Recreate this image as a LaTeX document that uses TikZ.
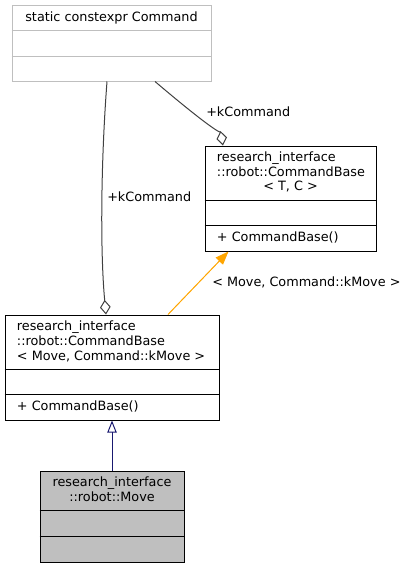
\documentclass[tikz,border=0pt]{standalone}
\usepackage{fontspec}
\setmainfont{DejaVu Sans}
\usepackage{tikz}
\usetikzlibrary{calc,arrows.meta}
\definecolor{edgegray}{HTML}{404040}
\definecolor{boxgray}{HTML}{BFBFBF}
\definecolor{navyx}{HTML}{191970}
\definecolor{orangex}{HTML}{FFA500}
\def\px{0.75pt}
\tikzset{
  cls/.style={draw=black,line width=0.75pt,fill=white,inner sep=0pt},
  txt/.style={font=\fontsize{9.6}{11}\selectfont,inner sep=0pt},
  agg/.style={-{Diamond[open,length=11pt,width=8pt]},draw=edgegray,line width=0.75pt},
  inh/.style={-{Triangle[open,length=9pt,width=7pt]},draw=navyx,line width=0.75pt},
  tpl/.style={-{Triangle[length=10pt,width=7.5pt]},draw=orangex,fill=orangex,line width=0.75pt}
}
\begin{document}
\begin{tikzpicture}[x=0.75pt,y=-0.75pt]
\useasboundingbox (0,0) rectangle (408,568);
% boxes
\node[cls,draw=boxgray,minimum width=199*\px,minimum height=76*\px] (cmd) at (111.5,43) {};
\node[cls,minimum width=171*\px,minimum height=105*\px] (base) at (290.5,198.5) {};
\node[cls,minimum width=214*\px,minimum height=105*\px] (inst) at (112,367.5) {};
\node[cls,fill=boxgray,minimum width=144*\px,minimum height=91*\px] (move) at (112,516.5) {};
% compartments
\draw[boxgray,line width=0.75pt] ($(cmd.north west)+(0,26)$) -- ($(cmd.north east)+(0,26)$)
  ($(cmd.north west)+(0,52)$) -- ($(cmd.north east)+(0,52)$);
\draw[line width=0.75pt] ($(base.north west)+(0,54.5)$) -- ($(base.north east)+(0,54.5)$)
  ($(base.north west)+(0,79.5)$) -- ($(base.north east)+(0,79.5)$);
\draw[line width=0.75pt] ($(inst.north west)+(0,55)$) -- ($(inst.north east)+(0,55)$)
  ($(inst.north west)+(0,80)$) -- ($(inst.north east)+(0,80)$);
\draw[line width=0.75pt] ($(move.north west)+(0,40)$) -- ($(move.north east)+(0,40)$)
  ($(move.north west)+(0,66)$) -- ($(move.north east)+(0,66)$);
% texts
\node[txt,anchor=base] (cmdname) at (111.5,21.7) {static constexpr Command};
\node[txt,anchor=base west] (basea) at (216.7,161.7) {research\_interface};
\node[txt,anchor=base west] (baseb) at (216.7,176.2) {::robot::CommandBase};
\node[txt,anchor=base] (basec) at (290.5,190.7) {< T, C >};
\node[txt,anchor=base west] (baseop) at (216.7,241) {+ CommandBase()};
\node[txt,anchor=base west] (insta) at (16.7,330.7) {research\_interface};
\node[txt,anchor=base west] (instb) at (16.7,345.7) {::robot::CommandBase};
\node[txt,anchor=base west] (instc) at (16.7,360.7) {< Move, Command::kMove >};
\node[txt,anchor=base west] (instop) at (16.7,410) {+ CommandBase()};
\node[txt,anchor=base] (movea) at (112,486.7) {research\_interface};
\node[txt,anchor=base] (moveb) at (112,501.3) {::robot::Move};
% connectors
\draw[inh] (move.north) -- (inst.south);
\draw[tpl] (168,0 |- inst.north) -- (228.5,0 |- base.south);
\node[txt,anchor=base west] (tplname) at (212,286) {< Move, Command::kMove >};
\draw[agg] (107,0 |- cmd.south) .. controls (101,160) and (100,250) .. (106,0 |- inst.north);
\node[txt,anchor=base west] (aggl) at (107,201) {+kCommand};
\draw[agg] (155,0 |- cmd.south) .. controls (205,124) and (221,134) .. (223,0 |- base.north);
\node[txt,anchor=base west] (aggr) at (206,116.7) {+kCommand};
\end{tikzpicture}
\end{document}
